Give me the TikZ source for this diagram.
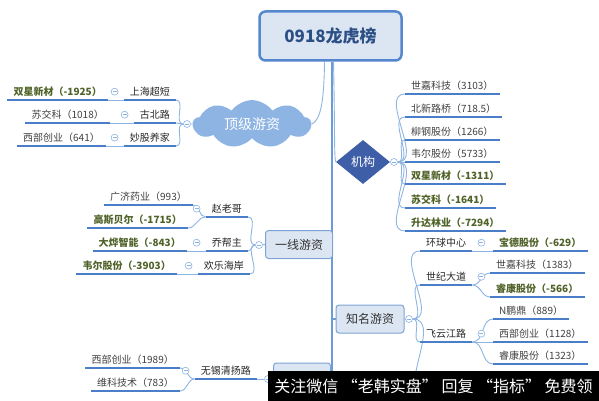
\documentclass[tikz,border=0pt]{standalone}
\usepackage{fontspec}
\setmainfont{Noto Sans CJK SC}
\usetikzlibrary{shapes.geometric,shapes.symbols,backgrounds}
\definecolor{lineblue}{HTML}{8DB4E2}
\definecolor{ulblue}{HTML}{4A7EC9}
\definecolor{trunkblue}{HTML}{6C9BD8}
\definecolor{boxfill}{HTML}{DCE6F2}
\definecolor{boxdraw}{HTML}{7EA3D6}
\definecolor{rootdraw}{HTML}{5587CF}
\definecolor{roottext}{HTML}{2C4F86}
\definecolor{cloudfill}{HTML}{8EB4E3}
\definecolor{diafill}{HTML}{3E5FA8}
\definecolor{leaftext}{HTML}{404040}
\definecolor{olivetext}{HTML}{4F6228}

\begin{document}
\begin{tikzpicture}[
  x=1pt,y=-1pt,
  thinline/.style={draw=lineblue,line width=0.9pt},
  trunk/.style={draw=trunkblue,line width=2pt},
  uline/.style={draw=ulblue,line width=1.8pt},
  leaf/.style={inner xsep=6pt,inner ysep=3.5pt,text=leaftext,font=\fontsize{10pt}{12pt}\selectfont,
    append after command={(\tikzlastnode.south west) edge[uline] (\tikzlastnode.south east)}},
  leafL/.style={leaf,anchor=south east},
  leafR/.style={leaf,anchor=south west},
  midL/.style={leafL,text=black!85},
  midR/.style={leafR,text=black!85},
  neg/.style={text=olivetext,font=\fontsize{10pt}{12pt}\selectfont\bfseries},
  knob/.style={circle,draw=lineblue,fill=white,line width=0.6pt,minimum size=7pt,inner sep=0pt,
    path picture={\draw[lineblue,line width=0.6pt] ([xshift=-2pt]path picture bounding box.center) -- ([xshift=2pt]path picture bounding box.center);}},
  topic/.style={draw=boxdraw,fill=boxfill,rounded corners=3pt,line width=1pt,text=black!80,font=\fontsize{12pt}{14pt}\selectfont}
]
\useasboundingbox (0,0) rectangle (599,401);

\node[draw=rootdraw,fill=boxfill,line width=2.5pt,rounded corners=6pt,minimum width=142pt,minimum height=49pt,
  text=roottext,font=\fontsize{17pt}{20pt}\selectfont\bfseries] (root) at (330.5,36) {0918龙虎榜};

\node[cloud,cloud puffs=9,cloud puff arc=110,aspect=2.6,fill=cloudfill,minimum width=118pt,minimum height=46pt,
  text=white,font=\fontsize{14pt}{16pt}\selectfont] (djyz) at (252,124) {顶级游资};
\node[diamond,aspect=1.2,fill=diafill,minimum width=54pt,minimum height=44pt,inner sep=0pt,
  text=white,font=\fontsize{12pt}{14pt}\selectfont] (jg) at (363,162) {机构};
\node[topic,minimum width=67pt,minimum height=28pt] (yxyz) at (299,244.5) {一线游资};
\node[topic,minimum width=68pt,minimum height=28pt] (zmyz) at (370,319) {知名游资};
\node[topic,minimum width=57pt,minimum height=34pt] (bt) at (302,380) {};

\node[knob] (c1) at (187,124) {};
\node[knob] (c2) at (259,245) {};
\node[knob] (c3) at (268,379) {};
\node[knob] (c4) at (394,162) {};
\node[knob] (c5) at (409,319) {};

\node[midL] (shcd) at (176,100) {上海超短};
\node[midL] (gbl) at (176,123) {古北路};
\node[midL] (mgyj) at (176,146) {妙股养家};
\node[leafL,neg] (sxxc1) at (108,100) {双星新材（-1925）};
\node[leafL] (sjk1) at (110,123) {苏交科（1018）};
\node[leafL] (xbcy1) at (106,146) {西部创业（641）};

\node[midL] (zlg) at (248,217) {赵老哥};
\node[midL] (qbz) at (248,251) {乔帮主};
\node[midL] (hlha) at (250,274) {欢乐海岸};
\node[leafL] (gjyy) at (193,205) {广济药业（993）};
\node[leafL,neg] (gsbe) at (188,228) {高斯贝尔（-1715）};
\node[leafL,neg] (dyzn) at (187,251) {大烨智能（-843）};
\node[leafL,neg] (wegf1) at (177,274) {韦尔股份（-3903）};

\node[midL] (wxqyl) at (257,379) {无锡清扬路};
\node[leafL] (xbcy2) at (180,368) {西部创业（1989）};
\node[leafL] (wkjs) at (180,391) {维科技术（783）};

\node[leafR] (sjkj1) at (405,94) {世嘉科技（3103）};
\node[leafR] (bxlq) at (405,117) {北新路桥（718.5）};
\node[leafR] (lggf) at (405,140) {柳钢股份（1266）};
\node[leafR] (wegf2) at (405,162) {韦尔股份（5733）};
\node[leafR,neg] (sxxc2) at (405,184) {双星新材（-1311）};
\node[leafR,neg] (sjk2) at (405,208) {苏交科（-1641）};
\node[leafR,neg] (sdly) at (405,231) {升达林业（-7294）};

\node[midR] (hqzx) at (420,251) {环球中心};
\node[midR] (sjdd) at (420,285) {世纪大道};
\node[midR] (fyjl) at (420,342) {飞云江路};
\node[leafR,neg] (bdgf) at (493,251) {宝德股份（-629）};
\node[leafR] (sjkj2) at (490,273) {世嘉科技（1383）};
\node[leafR,neg] (rkgf1) at (490,297) {睿康股份（-566）};
\node[leafR] (npd) at (493,319) {N鹏鼎（889）};
\node[leafR] (xbcy3) at (493,342) {西部创业（1128）};
\node[leafR] (rkgf2) at (493,364) {睿康股份（1323）};
\coordinate (zmend) at (425,398);

\node[knob] (i1) at ([xshift=-9pt]shcd.west) {};
\node[knob] (i2) at ([xshift=-9pt]gbl.west) {};
\node[knob] (i3) at ([xshift=-9pt]mgyj.west) {};
\node[knob] (i4) at ([xshift=-9pt]zlg.west) {};
\node[knob] (i5) at ([xshift=-9pt]qbz.west) {};
\node[knob] (i6) at ([xshift=-9pt]hlha.west) {};
\node[knob] (i7) at ([xshift=-9pt]wxqyl.west) {};
\node[knob] (i8) at ([xshift=9pt]hqzx.east) {};
\node[knob] (i9) at ([xshift=9pt]sjdd.east) {};
\node[knob] (i10) at ([xshift=9pt]fyjl.east) {};

\begin{scope}[on background layer]
\draw[trunk] ([xshift=1.5pt]root.south) |- (yxyz.east);
\draw[trunk] ([xshift=1.5pt]root.south) |- (zmyz.west);
\draw[trunk] ([xshift=1.5pt]root.south) |- (bt.east);
\draw[thinline] ([xshift=-6pt]root.south) .. controls (324,105) and (320,120) .. (djyz.east);
\draw[thinline] ([xshift=3pt]root.south) .. controls (335,130) and (334,158) .. (jg.west);
\draw[thinline] (djyz.west) -- (c1);
\draw[thinline] (yxyz.west) -- (c2);
\draw[thinline] (bt.west) -- (c3);
\draw[thinline] (jg.east) -- (c4);
\draw[thinline] (zmyz.east) -- (c5);

\draw[thinline] (c1.west) to[out=180,in=0] (shcd.south east);
\draw[thinline] (c1.west) to[out=180,in=0] (gbl.south east);
\draw[thinline] (c1.west) to[out=180,in=0] (mgyj.south east);
\draw[thinline] (shcd.south west) -- (sxxc1.south east);
\draw[thinline] (gbl.south west) -- (sjk1.south east);
\draw[thinline] (mgyj.south west) -- (xbcy1.south east);

\draw[thinline] (c2.west) to[out=180,in=0] (zlg.south east);
\draw[thinline] (c2.west) to[out=180,in=0] (qbz.south east);
\draw[thinline] (c2.west) to[out=180,in=0] (hlha.south east);
\draw[thinline] (zlg.south west) to[out=180,in=0] (gjyy.south east);
\draw[thinline] (zlg.south west) to[out=180,in=0] (gsbe.south east);
\draw[thinline] (qbz.south west) -- (dyzn.south east);
\draw[thinline] (hlha.south west) -- (wegf1.south east);

\draw[thinline] (c3.west) -- (wxqyl.south east);
\draw[thinline] (wxqyl.south west) to[out=180,in=0] (xbcy2.south east);
\draw[thinline] (wxqyl.south west) to[out=180,in=0] (wkjs.south east);

\draw[thinline] (c4.east) to[out=0,in=180] (sjkj1.south west);
\draw[thinline] (c4.east) to[out=0,in=180] (bxlq.south west);
\draw[thinline] (c4.east) to[out=0,in=180] (lggf.south west);
\draw[thinline] (c4.east) to[out=0,in=180] (wegf2.south west);
\draw[thinline] (c4.east) to[out=0,in=180] (sxxc2.south west);
\draw[thinline] (c4.east) to[out=0,in=180] (sjk2.south west);
\draw[thinline] (c4.east) to[out=0,in=180] (sdly.south west);

\draw[thinline] (c5.east) to[out=0,in=180] (hqzx.south west);
\draw[thinline] (c5.east) to[out=0,in=180] (sjdd.south west);
\draw[thinline] (c5.east) to[out=0,in=180] (fyjl.south west);
\draw[thinline] (c5.east) to[out=0,in=180] (zmend);
\draw[thinline] (hqzx.south east) -- (bdgf.south west);
\draw[thinline] (sjdd.south east) to[out=0,in=180] (sjkj2.south west);
\draw[thinline] (sjdd.south east) to[out=0,in=180] (rkgf1.south west);
\draw[thinline] (fyjl.south east) to[out=0,in=180] (npd.south west);
\draw[thinline] (fyjl.south east) -- (xbcy3.south west);
\draw[thinline] (fyjl.south east) to[out=0,in=180] (rkgf2.south west);
\end{scope}

\node[fill=black,minimum width=331pt,minimum height=30pt,inner sep=0pt,text=white,
  font=\fontsize{16pt}{18pt}\selectfont] (ad) at (433.5,386) {关注微信 “老韩实盘” 回复 “指标” 免费领};
\end{tikzpicture}
\end{document}
